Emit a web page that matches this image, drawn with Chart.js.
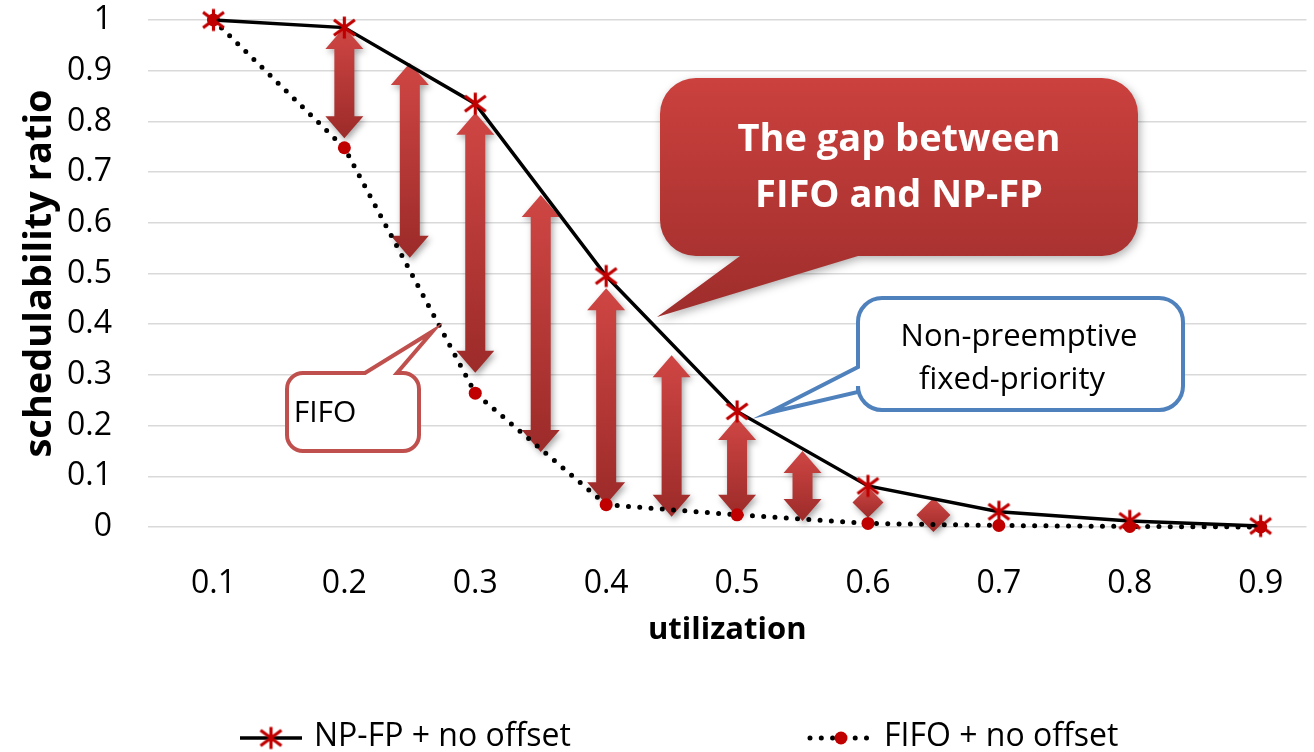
<!DOCTYPE html>
<html>
<head>
<meta charset="utf-8">
<script src="https://cdn.jsdelivr.net/npm/chart.js@4.4.0/dist/chart.umd.min.js"></script>
<style>
  html, body { margin: 0; padding: 0; background: #fff; }
  canvas { display: block; }
</style>
</head>
<body>
<canvas id="gapChart" width="1314" height="752"></canvas>
<script>
// schedulability ratio vs. utilization
var utilization = [0.1, 0.2, 0.3, 0.4, 0.5, 0.6, 0.7, 0.8, 0.9];
var npFpRatio = [1, 0.985, 0.835, 0.495, 0.228, 0.081, 0.03, 0.012, 0.002];
var fifoRatio = [1, 0.748, 0.264, 0.044, 0.024, 0.007, 0.003, 0.001, 0];
var ratioTicks = [0, 0.1, 0.2, 0.3, 0.4, 0.5, 0.6, 0.7, 0.8, 0.9, 1];

// gap arrows between the two curves
var gapAt = [0.2, 0.25, 0.3, 0.35, 0.4, 0.45, 0.5, 0.55, 0.6, 0.65];
var gapHigh = [0.986, 0.915, 0.817, 0.655, 0.471, 0.339, 0.215, 0.150, 0.079, 0.057];
var gapLow = [0.767, 0.531, 0.304, 0.148, 0.045, 0.020, 0.020, 0.012, 0.018, -0.010];

var FONT = "'Open Sans', sans-serif";
var RED = '#c00000';

function pairs(xs, ys) {
  return xs.map(function (x, i) { return { x: x, y: ys[i] }; });
}

// excel style "star" marker: an X with a vertical bar
function starMarker(size, color, lw) {
  var c = document.createElement('canvas');
  c.width = size; c.height = size;
  var g = c.getContext('2d');
  var h = size / 2, r = h - 1.5;
  g.strokeStyle = color;
  g.lineWidth = lw;
  g.beginPath();
  g.moveTo(h, h - r); g.lineTo(h, h + r);
  g.moveTo(h - r * 0.95, h - r * 0.7); g.lineTo(h + r * 0.95, h + r * 0.7);
  g.moveTo(h - r * 0.95, h + r * 0.7); g.lineTo(h + r * 0.95, h - r * 0.7);
  g.stroke();
  return c;
}
var star = starMarker(25, RED, 3.2);

function gapArrow(ctx, x, yTop, yBot) {
  var len = yBot - yTop;
  var hl = Math.min(22, len / 2);
  var hw = Math.min(38, len) / 2;
  var sw = 10;
  var grad = ctx.createLinearGradient(0, yTop, 0, yBot);
  grad.addColorStop(0, '#cf4644');
  grad.addColorStop(1, '#9c2b29');
  ctx.beginPath();
  ctx.moveTo(x, yTop);
  ctx.lineTo(x + hw, yTop + hl);
  ctx.lineTo(x + sw, yTop + hl);
  ctx.lineTo(x + sw, yBot - hl);
  ctx.lineTo(x + hw, yBot - hl);
  ctx.lineTo(x, yBot);
  ctx.lineTo(x - hw, yBot - hl);
  ctx.lineTo(x - sw, yBot - hl);
  ctx.lineTo(x - sw, yTop + hl);
  ctx.lineTo(x - hw, yTop + hl);
  ctx.closePath();
  ctx.fillStyle = grad;
  ctx.fill();
}

var gapArrows = {
  id: 'gapArrows',
  beforeDatasetsDraw: function (chart) {
    var ctx = chart.ctx, xs = chart.scales.x, ys = chart.scales.y;
    ctx.save();
    ctx.shadowColor = 'rgba(0,0,0,0.35)';
    ctx.shadowBlur = 6;
    ctx.shadowOffsetX = 2;
    ctx.shadowOffsetY = 3;
    gapAt.forEach(function (u, i) {
      gapArrow(ctx, xs.getPixelForValue(u), ys.getPixelForValue(gapHigh[i]), ys.getPixelForValue(gapLow[i]));
    });
    ctx.restore();
  }
};

// rounded box with a pointer on one edge
function calloutPath(ctx, x, y, w, h, r, edge, t1, t2, tx, ty) {
  ctx.beginPath();
  ctx.moveTo(x + r, y);
  if (edge === 'top') { ctx.lineTo(t1, y); ctx.lineTo(tx, ty); ctx.lineTo(t2, y); }
  ctx.lineTo(x + w - r, y);
  ctx.arcTo(x + w, y, x + w, y + r, r);
  ctx.lineTo(x + w, y + h - r);
  ctx.arcTo(x + w, y + h, x + w - r, y + h, r);
  if (edge === 'bottom') { ctx.lineTo(t2, y + h); ctx.lineTo(tx, ty); ctx.lineTo(t1, y + h); }
  ctx.lineTo(x + r, y + h);
  ctx.arcTo(x, y + h, x, y + h - r, r);
  if (edge === 'left') { ctx.lineTo(x, t2); ctx.lineTo(tx, ty); ctx.lineTo(x, t1); }
  ctx.lineTo(x, y + r);
  ctx.arcTo(x, y, x + r, y, r);
  ctx.closePath();
}

var callouts = {
  id: 'callouts',
  afterDatasetsDraw: function (chart) {
    var ctx = chart.ctx;
    ctx.save();

    // big red note
    ctx.save();
    ctx.shadowColor = 'rgba(0,0,0,0.3)';
    ctx.shadowBlur = 8;
    ctx.shadowOffsetX = 2;
    ctx.shadowOffsetY = 3;
    var g = ctx.createLinearGradient(0, 78, 0, 318);
    g.addColorStop(0, '#cb413e');
    g.addColorStop(0.75, '#a93230');
    g.addColorStop(1, '#9e2d2b');
    calloutPath(ctx, 660, 78, 478, 178, 36, 'bottom', 740, 858, 657, 317);
    ctx.fillStyle = g;
    ctx.fill();
    ctx.restore();
    ctx.fillStyle = '#fff';
    ctx.font = 'bold 38px ' + FONT;
    ctx.textAlign = 'center';
    ctx.textBaseline = 'middle';
    ctx.fillText('The gap between', 899, 140);
    ctx.fillText('FIFO and NP-FP', 899, 196);

    // NP-FP note
    ctx.lineWidth = 4;
    calloutPath(ctx, 858, 298, 325, 112, 24, 'left', 367, 392, 768, 413);
    ctx.fillStyle = '#fff';
    ctx.fill();
    ctx.strokeStyle = '#4f81bd';
    ctx.stroke();
    ctx.fillStyle = '#000';
    ctx.font = '31px ' + FONT;
    ctx.fillText('Non-preemptive', 1019, 337);
    ctx.fillText('fixed-priority', 1012, 380);

    // FIFO note
    calloutPath(ctx, 287, 373, 132, 78, 16, 'top', 365, 397, 433, 331);
    ctx.fillStyle = '#fff';
    ctx.fill();
    ctx.strokeStyle = '#c0504d';
    ctx.stroke();
    ctx.fillStyle = '#000';
    ctx.font = '30px ' + FONT;
    ctx.fillText('FIFO', 325, 413);

    ctx.restore();
  }
};

// line + marker legend under the axis
var lineLegend = {
  id: 'lineLegend',
  afterDraw: function (chart) {
    var ctx = chart.ctx;
    var starts = [240, 810];
    var y = 738;
    ctx.save();
    ctx.font = '32px ' + FONT;
    ctx.textBaseline = 'middle';
    ctx.textAlign = 'left';
    chart.data.datasets.forEach(function (ds, i) {
      var x0 = starts[i], x1 = x0 + 62;
      ctx.beginPath();
      ctx.strokeStyle = ds.borderColor;
      ctx.lineWidth = ds.borderWidth;
      ctx.lineCap = ds.borderCapStyle || 'butt';
      ctx.setLineDash(ds.borderDash || []);
      ctx.moveTo(x0, y);
      ctx.lineTo(x1, y);
      ctx.stroke();
      ctx.setLineDash([]);
      var mx = (x0 + x1) / 2;
      if (ds.pointStyle === 'circle') {
        ctx.beginPath();
        ctx.fillStyle = ds.pointBackgroundColor;
        ctx.arc(mx, y, ds.pointRadius, 0, Math.PI * 2);
        ctx.fill();
      } else {
        ctx.drawImage(ds.pointStyle, mx - ds.pointStyle.width / 2, y - ds.pointStyle.height / 2);
      }
      ctx.fillStyle = '#000';
      ctx.fillText(ds.label, x1 + 12, y - 1);
    });
    ctx.restore();
  }
};

new Chart(document.getElementById('gapChart'), {
  type: 'line',
  data: {
    datasets: [{
      label: 'NP-FP + no offset',
      data: pairs(utilization, npFpRatio),
      borderColor: '#000',
      borderWidth: 3.5,
      pointStyle: star,
      pointBackgroundColor: RED,
      tension: 0,
      clip: false
    }, {
      label: 'FIFO + no offset',
      data: pairs(utilization, fifoRatio),
      borderColor: '#000',
      borderWidth: 5,
      borderDash: [0, 11.3],
      borderCapStyle: 'round',
      pointStyle: 'circle',
      pointRadius: 6.5,
      pointBorderWidth: 0,
      pointBackgroundColor: RED,
      tension: 0,
      clip: false
    }]
  },
  options: {
    responsive: false,
    animation: false,
    layout: { padding: { top: 20, right: 0, bottom: 90, left: 0 } },
    plugins: {
      legend: { display: false },
      tooltip: { enabled: false }
    },
    scales: {
      x: {
        type: 'linear',
        min: 0.05,
        max: 0.935,
        afterBuildTicks: function (s) {
          s.ticks = utilization.map(function (v) { return { value: v }; });
        },
        afterFit: function (s) {
          s.height = 135;
          s.paddingLeft = 0;
          s.paddingRight = 0;
        },
        grid: { display: false },
        border: { display: false },
        ticks: {
          color: '#000',
          padding: 30,
          font: { family: FONT, size: 32 },
          callback: function (v) { return v.toFixed(1); }
        },
        title: {
          display: true,
          text: 'utilization',
          color: '#000',
          font: { family: FONT, size: 31, weight: 'bold' },
          padding: { top: 0, bottom: 13 }
        }
      },
      y: {
        min: 0,
        max: 1,
        afterBuildTicks: function (s) {
          s.ticks = ratioTicks.map(function (v) { return { value: v }; });
        },
        afterFit: function (s) {
          s.width = 148;
          s.paddingTop = 0;
          s.paddingBottom = 0;
        },
        grid: { color: '#d9d9d9', lineWidth: 1.5, drawTicks: false },
        border: { display: false },
        ticks: {
          color: '#000',
          padding: 36,
          font: { family: FONT, size: 32 },
          callback: function (v) { return String(+v.toFixed(1)); }
        },
        title: {
          display: true,
          text: 'schedulability ratio',
          color: '#000',
          font: { family: FONT, size: 38, weight: 'bold' },
          padding: { top: 17, bottom: 0 }
        }
      }
    }
  },
  plugins: [gapArrows, callouts, lineLegend]
});
</script>
</body>
</html>
